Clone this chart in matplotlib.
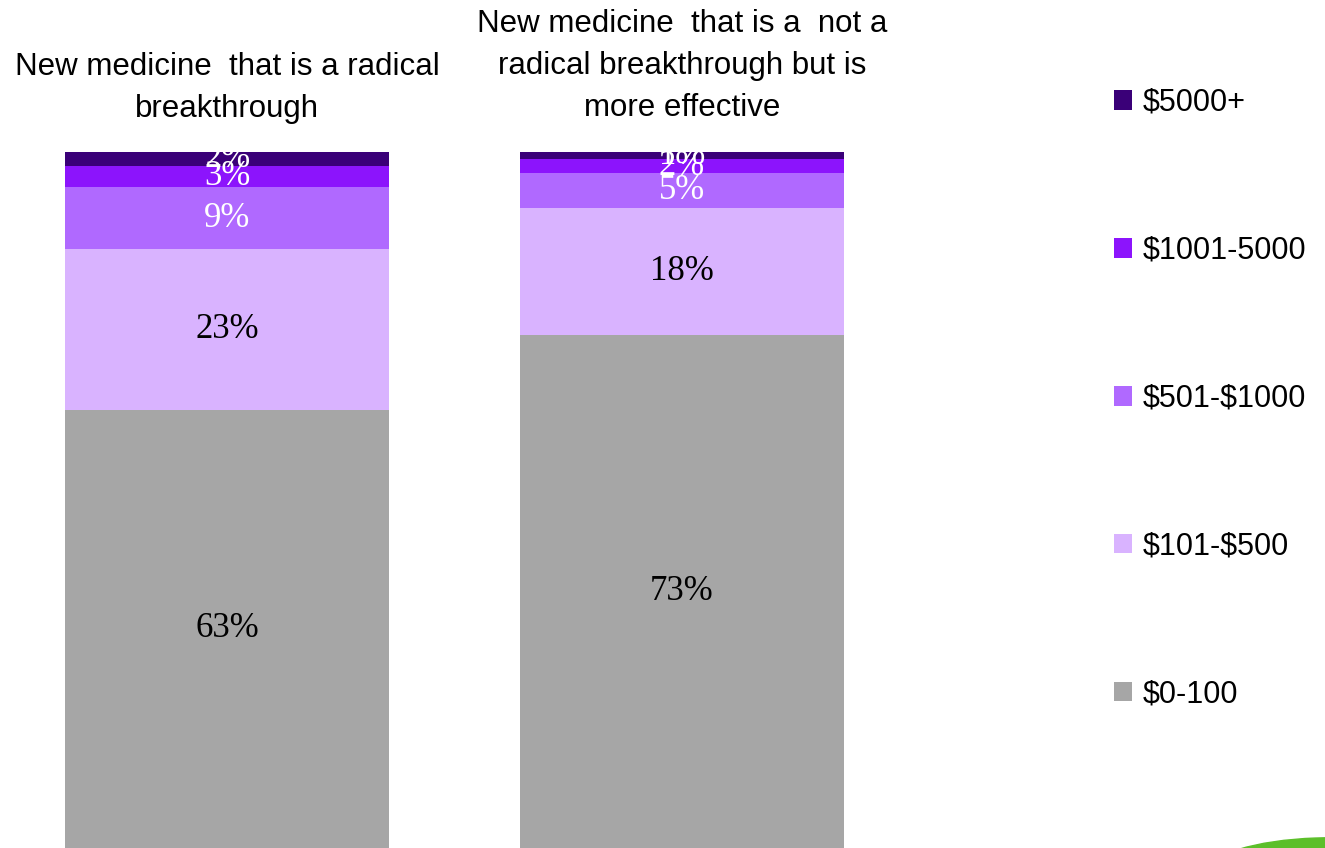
import matplotlib.pyplot as plt
from matplotlib.patches import Ellipse
from matplotlib.transforms import blended_transform_factory

# data (percent of respondents)
titles = ["New medicine  that is a radical\nbreakthrough",
          "New medicine  that is a  not a\nradical breakthrough but is\nmore effective"]
bands = ["$0-100", "$101-$500", "$501-$1000", "$1001-5000", "$5000+"]
radical = [63, 23, 9, 3, 2]
effective = [73, 18, 5, 2, 1]
colors = ["#a6a6a6", "#d9b3ff", "#b069ff", "#8c14fc", "#3a0078"]
label_colors = ["black", "black", "white", "white", "white"]

series = [radical, effective]

fig = plt.figure(figsize=(13.25, 8.48), dpi=100)
ax = fig.add_axes([0.0, 0.0, 909 / 1325, 696 / 848])

x = [0, 1]
bottoms = [0.0, 0.0]
bars = []
for i, band in enumerate(bands):
    # 100% stacked: each column is scaled to its own total
    heights = [s[i] / sum(s) * 100 for s in series]
    b = ax.bar(x, heights, width=0.713, bottom=bottoms, color=colors[i],
               edgecolor="none", label=band)
    bars.append(b)
    for xi, h, bt, s in zip(x, heights, bottoms, series):
        ax.text(xi, bt + h / 2, f"{s[i]}%", ha="center", va="center",
                color=label_colors[i], fontsize=25, family="Liberation Serif")
    bottoms = [bt + h for bt, h in zip(bottoms, heights)]

ax.set_xlim(-0.5, 1.5)
ax.set_ylim(0, 100)
ax.axis("off")

trans = blended_transform_factory(ax.transData, fig.transFigure)
ax.text(0, 1 - 88 / 848, titles[0], transform=trans, ha="center", va="center",
        fontsize=22.5, linespacing=1.5, family="Liberation Sans")
ax.text(1, 1 - 66 / 848, titles[1], transform=trans, ha="center", va="center",
        fontsize=22.5, linespacing=1.52, family="Liberation Sans")

# escape the dollar signs so they are not read as mathtext
legend_labels = [b.replace("$", r"\$") for b in bands[::-1]]
fig.legend(handles=bars[::-1], labels=legend_labels, loc="upper left",
           bbox_to_anchor=(1086 / 1325, 1 - 60 / 848), frameon=False,
           prop={"family": "Liberation Sans", "size": 22},
           handlelength=0.62, handleheight=0.62, handletextpad=0.35,
           labelspacing=3.86)

# bit of green logo peeking in at the bottom right corner
fig.patches.append(Ellipse((1318 / 1325, 1 - 868 / 848), 220 / 1325, 60 / 848,
                           angle=3, color="#5cbf2a", transform=fig.transFigure,
                           figure=fig))

fig.savefig("out.png", dpi=100)
